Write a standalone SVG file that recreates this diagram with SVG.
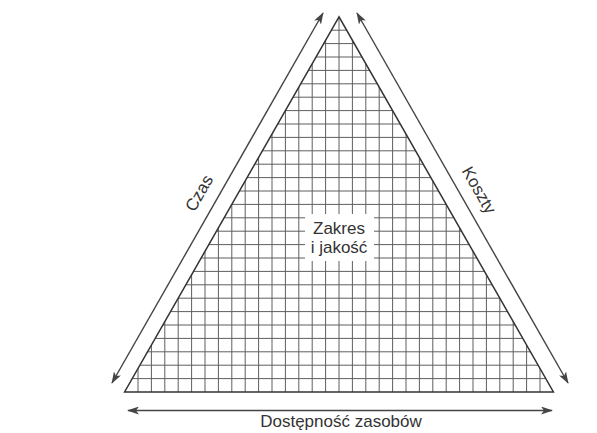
<svg xmlns="http://www.w3.org/2000/svg" width="597" height="433" viewBox="0 0 597 433">
<defs>
<style>
.grid{stroke:#5e5e5e;stroke-width:1;fill:none}
.edge{stroke:#333;stroke-width:1.5;fill:none}
.arr{stroke:#444;stroke-width:1.4;fill:none}
.lbl{font-family:"Liberation Sans",Arial,sans-serif;font-size:17px;fill:#333}
</style>
<marker id="ah" viewBox="0 0 12 8" refX="11" refY="4" markerWidth="12" markerHeight="8" markerUnits="userSpaceOnUse" orient="auto-start-reverse">
<path d="M0,0 L12,4 L0,8 L3,4 Z" fill="#444"/>
</marker>
<clipPath id="tri"><polygon points="339,16.8 124.6,392 553.4,392"/></clipPath>
</defs>
<rect width="597" height="433" fill="#fff"/>
<g id="triangle">
<g clip-path="url(#tri)">
<path class="grid" d="M138,16V392M151.4,16V392M164.8,16V392M178.2,16V392M191.6,16V392M205,16V392M218.4,16V392M231.8,16V392M245.2,16V392M258.6,16V392M272,16V392M285.4,16V392M298.8,16V392M312.2,16V392M325.6,16V392M339,16V392M352.4,16V392M365.8,16V392M379.2,16V392M392.6,16V392M406,16V392M419.4,16V392M432.8,16V392M446.2,16V392M459.6,16V392M473,16V392M486.4,16V392M499.8,16V392M513.2,16V392M526.6,16V392M540,16V392"/>
<path class="grid" d="M120,378.6H560M120,365.2H560M120,351.8H560M120,338.4H560M120,325H560M120,311.6H560M120,298.2H560M120,284.8H560M120,271.4H560M120,258H560M120,244.6H560M120,231.2H560M120,217.8H560M120,204.4H560M120,191H560M120,177.6H560M120,164.2H560M120,150.8H560M120,137.4H560M120,124H560M120,110.6H560M120,97.2H560M120,83.8H560M120,70.4H560M120,57H560M120,43.6H560M120,30.2H560"/>
</g>
<polygon class="edge" points="339,16.8 124.6,392 553.4,392"/>
</g>
<g id="connectors">
<line class="arr" x1="112" y1="383" x2="323" y2="13" marker-start="url(#ah)" marker-end="url(#ah)"/>
<line class="arr" x1="357" y1="13" x2="568" y2="383" marker-start="url(#ah)" marker-end="url(#ah)"/>
<line class="arr" x1="128" y1="410.5" x2="552" y2="410.5" marker-start="url(#ah)" marker-end="url(#ah)"/>
</g>
<g id="scope">
<rect x="305" y="214" width="69" height="47" fill="#fff"/>
<text class="lbl" x="339" y="234" text-anchor="middle">Zakres</text>
<text class="lbl" x="339" y="252.5" text-anchor="middle">i jakość</text>
</g>
<g id="time">
<text class="lbl" x="0" y="0" text-anchor="middle" transform="translate(204,196) rotate(-60.2)">Czas</text>
</g>
<g id="cost">
<text class="lbl" x="0" y="0" text-anchor="middle" transform="translate(474,193) rotate(60.2)">Koszty</text>
</g>
<g id="resources">
<text class="lbl" x="341" y="426.5" text-anchor="middle">Dostępność zasobów</text>
</g>
</svg>
